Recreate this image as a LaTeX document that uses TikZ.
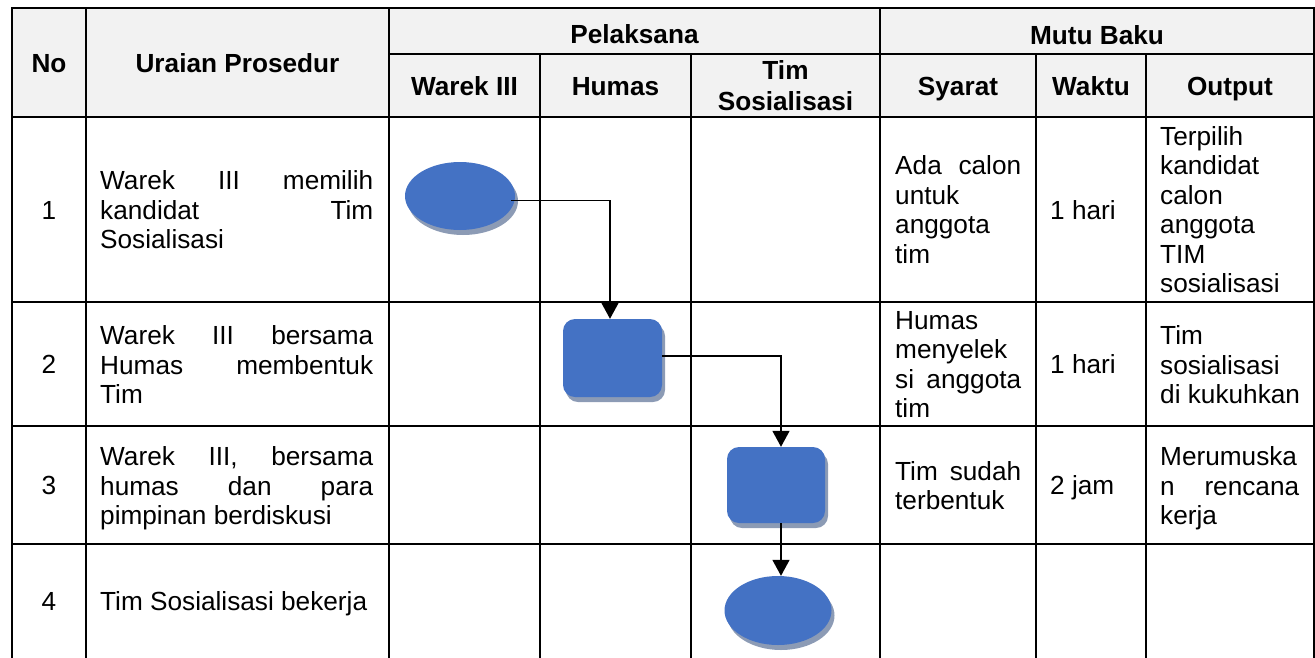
\documentclass[tikz,border=0pt]{standalone}
\usepackage{fontspec}
\setmainfont{Liberation Sans}
\usetikzlibrary{arrows.meta,shapes.geometric,shadows}
\definecolor{flowblue}{HTML}{4472C4}
\definecolor{shadowc}{HTML}{8C9BB5}
\definecolor{hdrfill}{HTML}{F2F2F2}
\newcommand{\jl}[2]{\makebox[#1pt][s]{#2}}
\tikzset{
  grid/.style={line width=2.4pt, line cap=rect},
  txt/.style={inner sep=0pt, font=\fontsize{26.2}{29.5}\selectfont, anchor=base west, align=left},
  txtc/.style={inner sep=0pt, font=\fontsize{26.2}{29.5}\selectfont, anchor=base},
  hd/.style={inner sep=0pt, font=\fontsize{26.2}{31}\selectfont\bfseries, anchor=base},
  flowshape/.style={fill=flowblue, draw=none, inner sep=0pt,
    drop shadow={shadow xshift=3pt, shadow yshift=-5pt, fill=shadowc, opacity=1}},
  oval/.style={flowshape, ellipse},
  procbox/.style={flowshape, rectangle, rounded corners=12pt},
  conn/.style={line width=1.6pt, -{Triangle[width=17pt,length=16pt]}}
}
\begin{document}
\begin{tikzpicture}[x=1pt,y=-1pt]
\useasboundingbox (0,0) rectangle (1315,657);
% header background
\fill[hdrfill] (12,8) rectangle (1314,117);
% grid
\draw[grid] (12,657) -- (12,8) -- (1314,8) -- (1314,657);
\draw[grid] (389,54) -- (1314,54);
\draw[grid] (12,117) -- (1314,117);
\draw[grid] (12,302) -- (1314,302);
\draw[grid] (12,426) -- (1314,426);
\draw[grid] (12,544) -- (1314,544);
\draw[grid] (86,8) -- (86,657);
\draw[grid] (389,8) -- (389,657);
\draw[grid] (540,54) -- (540,657);
\draw[grid] (691,54) -- (691,657);
\draw[grid] (880,8) -- (880,657);
\draw[grid] (1036,54) -- (1036,657);
\draw[grid] (1146,54) -- (1146,657);
% headers (multi-line nodes: base = last line)
\node[hd] (hno) at (49,72) {No};
\node[hd] (hur) at (237.5,72) {Uraian Prosedur};
\node[hd] (hpel) at (634.5,43) {Pelaksana};
\node[hd] (hmb) at (1097,44) {Mutu Baku};
\node[hd] (hw3) at (464.5,95) {Warek III};
\node[hd] (hhu) at (615.5,95) {Humas};
\node[hd, align=center] (hts) at (785.5,110) {Tim\\Sosialisasi};
\node[hd] (hsy) at (958,95) {Syarat};
\node[hd] (hwk) at (1091,95) {Waktu};
\node[hd] (hop) at (1230,95) {Output};
% row 1
\node[txtc] (n1) at (49,219) {1};
\node[txt] (u1) at (100,248.5) {\jl{273}{Warek III memilih}\\\jl{273}{kandidat Tim}\\Sosialisasi};
\node[txt] (s1) at (895,263.25) {\jl{126}{Ada calon}\\untuk\\anggota\\tim};
\node[txt] (w1) at (1050,219) {1 hari};
\node[txt] (o1) at (1160,292.75) {Terpilih\\kandidat\\calon\\anggota\\TIM\\sosialisasi};
% row 2
\node[txtc] (n2) at (49,373.5) {2};
\node[txt] (u2) at (100,403.5) {\jl{273}{Warek III bersama}\\\jl{273}{Humas membentuk}\\Tim};
\node[txt] (s2) at (895,417.75) {Humas\\menyelek\\\jl{126}{si anggota}\\tim};
\node[txt] (w2) at (1050,373.5) {1 hari};
\node[txt] (o2) at (1160,403.5) {Tim\\sosialisasi\\di kukuhkan};
% row 3
\node[txtc] (n3) at (49,494.5) {3};
\node[txt] (u3) at (100,524.5) {\jl{273}{Warek III, bersama}\\\jl{273}{humas dan para}\\pimpinan berdiskusi};
\node[txt] (s3) at (895,509.75) {\jl{126}{Tim sudah}\\terbentuk};
\node[txt] (w3) at (1050,494.5) {2 jam};
\node[txt] (o3) at (1160,524.5) {Merumuska\\\jl{139}{n rencana}\\kerja};
% row 4
\node[txtc] (n4) at (49,610) {4};
\node[txt] (u4) at (100,610) {Tim Sosialisasi bekerja};
% flow shapes
\node[oval, minimum width=110pt, minimum height=68pt] (e1) at (460,196) {};
\node[procbox, minimum width=99pt, minimum height=78pt] (r2) at (612.5,358) {};
\node[procbox, minimum width=98pt, minimum height=76pt] (r3) at (776,485) {};
\node[oval, minimum width=107pt, minimum height=69pt] (e4) at (778,610.5) {};
% connectors
\draw[conn] ([shift={(-4,4.5)}]e1.east) -| ([xshift=-2.5pt]r2.north);
\draw[conn] ([yshift=2pt]r2.east) -| ([xshift=5pt]r3.north);
\draw[conn] ([xshift=5pt]r3.south) -- ([xshift=5pt]r3.south |- e4.north);
\end{tikzpicture}
\end{document}
